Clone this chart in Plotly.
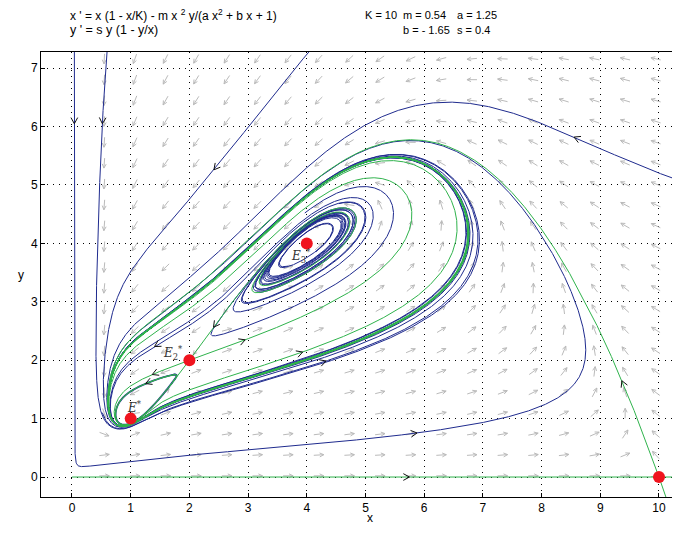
import math
import numpy as np
import plotly.graph_objects as go

# ---- model parameters (shown in the chart) ----
K = 10.0
m = 0.54
a = 1.25
b = -1.65
s = 0.4

# ---- equilibria ----
eq_x = [1.0, 2.0, 4.0, 10.0]
eq_y = [1.0, 2.0, 4.0, 0.0]
eq_labels = ["<i>E</i><sup>*</sup>", "<i>E</i><sub>2</sub><sup>*</sup>", "<i>E</i><sub>3</sub><sup>*</sup>"]
eq_label_x = [1.07, 1.72, 3.9]
eq_label_y = [1.2, 2.13, 3.78]
saddle_idx = [1, 3]          # equilibria whose separatrices are drawn (green)
saddle_T = [140, 250]

# ---- blue trajectory seeds ----
blue_x = [0.04, 0.52, 2.45, 8.6, 4.28, 1.33, 1.45, 3.6, 4.6, 3.4, 4.75, 3.25, 4.3]
blue_y = [6.1, 6.1, 5.3, 5.8, 1.97, 1.63, 2.26, 3.6, 4.3, 3.0, 4.7, 3.45, 4.75]
blue_Tf = [150, 150, 150, 150, 150, 10, 150, 1, 1, 150, 1, 1, 1]
blue_Tb = [150, 150, 150, 150, 10, 150, 90, 40, 40, 90, 50, 50, 45]

# ---- arrows on trajectories (approximate positions) ----
arr_x = [0.04, 0.52, 2.45, 8.6, 9.5, 5.7, 5.84, 1.41, 1.3, 2.9, 3.88, 4.28, 2.42, 1.45]
arr_y = [6.1, 6.1, 5.3, 5.8, 1.65, 0.0, 0.63, 1.78, 1.63, 2.33, 2.12, 1.97, 2.62, 2.26]

# ---- vector field grid ----
vx0, vdx, vnx = 0.55, 0.522, 19
vy0, vdy, vny = 0.02, 0.357, 21

XR = [-0.528, 10.358]
YR = [-0.342, 7.277]
PXU = 58.7
PYU = 58.4


def field(x, y):
    D = a * x * x + b * x + 1.0
    fx = x * (1.0 - x / K) - m * x * x * y / D
    fy = s * y * (1.0 - y / x)
    return fx, fy


def path(x0, y0, T, sgn, h=0.003, dtmax=0.02):
    x, y, t = x0, y0, 0.0
    X, Y = [x], [y]
    lx, ly = x, y
    while t < T:
        f1 = field(x, y)
        sp = math.hypot(*f1)
        if sp < 1e-12:
            break
        dt = min(dtmax, h / sp) * sgn
        f2 = field(x + dt / 2 * f1[0], y + dt / 2 * f1[1])
        f3 = field(x + dt / 2 * f2[0], y + dt / 2 * f2[1])
        f4 = field(x + dt * f3[0], y + dt * f3[1])
        x += dt / 6 * (f1[0] + 2 * f2[0] + 2 * f3[0] + f4[0])
        y += dt / 6 * (f1[1] + 2 * f2[1] + 2 * f3[1] + f4[1])
        t += abs(dt)
        if not (-0.7 < x < 10.6 and -0.6 < y < 7.6) or x <= 1e-7:
            break
        if math.hypot(x - lx, y - ly) > 0.006:
            X.append(x); Y.append(y)
            lx, ly = x, y
    X.append(x); Y.append(y)
    return X, Y


def jac(x, y, e=1e-6):
    f0 = field(x, y)
    fxp = field(x + e, y); fyp = field(x, y + e)
    return np.array([[(fxp[0] - f0[0]) / e, (fyp[0] - f0[0]) / e],
                     [(fxp[1] - f0[1]) / e, (fyp[1] - f0[1]) / e]])


fig = go.Figure()
BLUE = "#1f2b8e"
GREEN = "#2fb34c"

# vector field
gx, gy = [], []
L = 10.0
for i in range(vnx):
    for j in range(vny):
        x = vx0 + vdx * i
        y = vy0 + vdy * j
        fx, fy = field(x, y)
        px, py = fx * PXU, fy * PYU
        n = math.hypot(px, py)
        ux, uy = px / n, py / n
        tx, ty = x + ux * L / 2 / PXU, y + uy * L / 2 / PYU
        sx, sy = x - ux * L / 2 / PXU, y - uy * L / 2 / PYU
        gx += [sx, tx, None]; gy += [sy, ty, None]
        for ang in (0.45, -0.45):
            c, sn = math.cos(ang), math.sin(ang)
            bx_ = -(ux * c - uy * sn); by_ = -(ux * sn + uy * c)
            gx += [tx, tx + bx_ * 4.5 / PXU, None]
            gy += [ty, ty + by_ * 4.5 / PYU, None]
fig.add_trace(go.Scatter(x=gx, y=gy, mode="lines", line=dict(color="#bababa", width=1), hoverinfo="skip"))

allpts = []

# blue trajectories
for i, (x0, y0, Tf, Tb) in enumerate(zip(blue_x, blue_y, blue_Tf, blue_Tb)):
    bx, by = path(x0, y0, Tb, -1)
    fx, fy = path(x0, y0, Tf, 1)
    X = bx[::-1] + fx[1:]
    Y = by[::-1] + fy[1:]
    allpts += list(zip(X, Y))
    lw = 1.6 if i == 5 else 1.0
    fig.add_trace(go.Scatter(x=X, y=Y, mode="lines", line=dict(color=BLUE, width=lw), hoverinfo="skip"))

# separatrices of saddles (green)
for idx, Ts in zip(saddle_idx, saddle_T):
    ex, ey = eq_x[idx], eq_y[idx]
    J = jac(ex, ey)
    w, V = np.linalg.eig(J)
    for k in range(2):
        v = V[:, k]
        sg = 1 if w[k] > 0 else -1
        for d in (1, -1):
            X, Y = path(ex + d * 1e-4 * v[0], ey + d * 1e-4 * v[1], Ts if sg < 0 else 250, sg)
            X = [ex] + X; Y = [ey] + Y
            allpts += list(zip(X, Y))
            fig.add_trace(go.Scatter(x=X, y=Y, mode="lines", line=dict(color=GREEN, width=1.0), hoverinfo="skip"))

P = np.array(allpts)

# arrows on trajectories (snapped to nearest computed curve point)
ax_, ay_ = [], []
for x, y in zip(arr_x, arr_y):
    dd = (P[:, 0] - x) ** 2 + (P[:, 1] - y) ** 2
    k = int(np.argmin(dd))
    x, y = P[k]
    fx, fy = field(x, y)
    px, py = fx * PXU, fy * PYU
    n = math.hypot(px, py)
    ux, uy = px / n, py / n
    tx, ty = x + ux * 3 / PXU, y + uy * 3 / PYU
    for ang in (0.5, -0.5):
        c, sn = math.cos(ang), math.sin(ang)
        bx_ = -(ux * c - uy * sn); by_ = -(ux * sn + uy * c)
        ax_ += [tx, tx + bx_ * 7 / PXU, None]
        ay_ += [ty, ty + by_ * 7 / PYU, None]
fig.add_trace(go.Scatter(x=ax_, y=ay_, mode="lines", line=dict(color="#111111", width=1), hoverinfo="skip"))

# equilibria
fig.add_trace(go.Scatter(x=eq_x, y=eq_y, mode="markers", cliponaxis=False,
                         marker=dict(color="#f0141e", size=12, line=dict(width=0)), hoverinfo="skip"))
for lx, ly, t in zip(eq_label_x, eq_label_y, eq_labels):
    fig.add_annotation(x=lx, y=ly, text=t, showarrow=False, xanchor="center", yanchor="middle",
                       font=dict(family="DejaVu Serif", size=12, color="#333333"))

# page offset of 8px (body margin) is compensated in the figure size
W, H = 672, 528
ml, mr, mt, mb = 33, 0, 44, 39


def pp(px, py):
    px -= 8; py -= 8
    return (px - ml) / (W - ml - mr), (H - mb - py) / (H - mt - mb)


for txt, px, py, fs in [
    ("x ' = x (1 - x/K) - m x <sup>2</sup> y/(a x<sup>2</sup> + b x + 1)", 68, 15, 12),
    ("y ' = s y (1 - y/x)", 68, 30, 12.5),
    ("K = 10", 363, 15, 11),
    ("m = 0.54", 401, 15, 11),
    ("a = 1.25", 455, 15, 11),
    ("b = - 1.65", 401, 30, 11),
    ("s = 0.4", 455, 30, 11),
]:
    xp, yp = pp(px, py)
    fig.add_annotation(x=xp, y=yp, xref="paper", yref="paper", text=txt, showarrow=False,
                       xanchor="left", yanchor="middle",
                       font=dict(family="Liberation Sans", size=fs, color="black"))

xp, yp = pp(370, 527)
fig.add_annotation(x=xp, y=yp, xref="paper", yref="paper", text="x", showarrow=False,
                   font=dict(family="Liberation Sans", size=12, color="black"))
xp, yp = pp(16, 275)
fig.add_annotation(x=xp, y=yp, xref="paper", yref="paper", text="y", showarrow=False,
                   font=dict(family="Liberation Sans", size=12, color="black"))

axis = dict(showline=True, linecolor="black", linewidth=1, ticks="inside", ticklen=4,
            tickcolor="black", showgrid=True, gridcolor="black", griddash="1px,5px", gridwidth=1,
            zeroline=False, tickfont=dict(family="Liberation Sans", size=12, color="black"))
fig.update_layout(
    width=W, height=H, margin=dict(l=ml, r=mr, t=mt, b=mb),
    plot_bgcolor="white", paper_bgcolor="white", showlegend=False,
    xaxis=dict(range=XR, tickvals=list(range(0, 11)), mirror=True, **axis),
    yaxis=dict(range=YR, tickvals=list(range(0, 8)), mirror=False, **axis),
)
fig.write_html("out.html")
